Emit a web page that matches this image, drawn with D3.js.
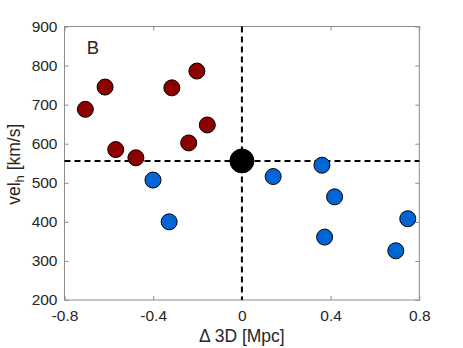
<!DOCTYPE html>
<html>
<head>
<meta charset="utf-8">
<script src="https://cdn.jsdelivr.net/npm/d3@7"></script>
<style>
  body { margin: 0; background: #fff; }
  text { font-family: "Liberation Sans", Arial, sans-serif; fill: #262626; }
</style>
</head>
<body>
<svg id="chart"></svg>
<script>
// data
var redX = [-0.706, -0.617, -0.569, -0.478, -0.316, -0.203, -0.240, -0.156];
var redY = [688, 745, 585, 564, 743, 786, 602, 648];
var blueX = [-0.401, -0.328, 0.141, 0.361, 0.418, 0.373, 0.748, 0.694];
var blueY = [507, 400, 516, 545, 464, 361, 408, 326];
var centerX = [0];
var centerY = [556];
var xTicks = [-0.8, -0.4, 0, 0.4, 0.8];
var yTicks = [200, 300, 400, 500, 600, 700, 800, 900];

var width = 463, height = 348;
var mLeft = 64.5, mRight = 419.3, mTop = 26.5, mBottom = 300;

var svg = d3.select("#chart").attr("width", width).attr("height", height);

var x = d3.scaleLinear().domain([-0.8, 0.8]).range([mLeft, mRight]);
var y = d3.scaleLinear().domain([200, 900]).range([mBottom, mTop]);

// matlab style labels: plain hyphen minus
var fmt = d => d === 0 ? "0" : d.toFixed(1);

// axes, inward ticks, mirrored on all sides
var axisColor = "#8c8c8c";
function styleAxis(g) {
  g.select(".domain").remove();
  g.selectAll(".tick line").attr("stroke", axisColor);
  g.selectAll(".tick text")
    .attr("font-size", 15.5)
    .attr("font-family", "Liberation Sans, Arial, sans-serif")
    .attr("fill", "#262626");
}

svg.append("g")
  .attr("transform", "translate(0," + mBottom + ")")
  .call(d3.axisBottom(x).tickValues(xTicks).tickSizeInner(-4).tickSizeOuter(0).tickPadding(10).tickFormat(fmt))
  .call(styleAxis);
svg.append("g")
  .attr("transform", "translate(0," + mTop + ")")
  .call(d3.axisTop(x).tickValues(xTicks).tickSizeInner(-4).tickSizeOuter(0).tickFormat(""))
  .call(styleAxis);
svg.append("g")
  .attr("transform", "translate(" + mLeft + ",0)")
  .call(d3.axisLeft(y).tickValues(yTicks).tickSizeInner(-4).tickSizeOuter(0).tickPadding(7))
  .call(styleAxis);
svg.append("g")
  .attr("transform", "translate(" + mRight + ",0)")
  .call(d3.axisRight(y).tickValues(yTicks).tickSizeInner(-4).tickSizeOuter(0).tickFormat(""))
  .call(styleAxis);

svg.append("rect")
  .attr("x", mLeft).attr("y", mTop)
  .attr("width", mRight - mLeft).attr("height", mBottom - mTop)
  .attr("fill", "none").attr("stroke", axisColor).attr("stroke-width", 1);

// dashed reference lines
svg.append("line")
  .attr("x1", x(centerX[0])).attr("x2", x(centerX[0])).attr("y1", y(900)).attr("y2", y(200))
  .attr("stroke", "#000").attr("stroke-width", 2).attr("stroke-dasharray", "6,4");
svg.append("line")
  .attr("x1", x(-0.8)).attr("x2", x(0.8)).attr("y1", y(centerY[0])).attr("y2", y(centerY[0]))
  .attr("stroke", "#000").attr("stroke-width", 2).attr("stroke-dasharray", "6,4");

function dots(xs, ys, fill, r) {
  svg.append("g")
    .selectAll("circle")
    .data(xs.map(function(d, i) { return [d, ys[i]]; }))
    .enter()
    .append("circle")
    .attr("cx", d => x(d[0]))
    .attr("cy", d => y(d[1]))
    .attr("r", r)
    .attr("fill", fill)
    .attr("stroke", "#000")
    .attr("stroke-width", 1);
}

dots(redX, redY, "#8c0000", 8);
dots(blueX, blueY, "#0066d6", 8);
dots(centerX, centerY, "#000", 12);

// panel letter
svg.append("text")
  .attr("x", 93).attr("y", 54)
  .attr("text-anchor", "middle")
  .attr("font-size", 18.5)
  .text("B");

// axis labels
svg.append("text")
  .attr("x", (mLeft + mRight) / 2).attr("y", 342)
  .attr("text-anchor", "middle")
  .attr("font-size", 17.5)
  .text("\u0394 3D [Mpc]");

var yl = svg.append("text")
  .attr("transform", "translate(20," + ((mTop + mBottom) / 2 + 1) + ") rotate(-90)")
  .attr("text-anchor", "middle")
  .attr("font-size", 17.5);
yl.append("tspan").text("vel");
yl.append("tspan").attr("font-size", 13).attr("dy", 4).text("h");
yl.append("tspan").attr("dy", -4).text(" [km/s]");
</script>
</body>
</html>
